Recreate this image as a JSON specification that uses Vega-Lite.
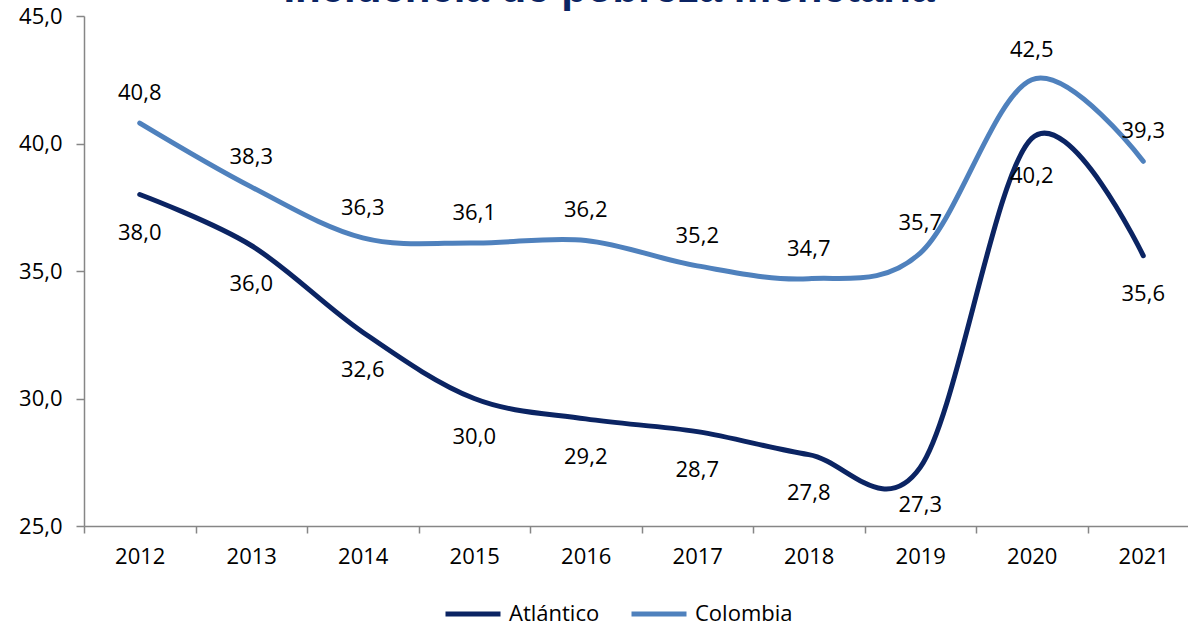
{
  "$schema": "https://vega.github.io/schema/vega-lite/v6.json",
  "width": 1104,
  "height": 510,
  "autosize": {"type": "none"},
  "padding": {"left": 84, "top": 16, "right": 0, "bottom": 100},
  "background": "white",
  "title": {
    "text": "Incidencia de pobreza monetaria",
    "font": "Liberation Sans",
    "fontSize": 42,
    "fontWeight": "bold",
    "color": "#0B2463",
    "anchor": "middle",
    "dx": -27,
    "offset": -6
  },
  "config": {
    "locale": {"number": {"decimal": ",", "thousands": ".", "grouping": [3], "currency": ["$", ""]}},
    "view": {"stroke": null},
    "font": "Open Sans"
  },
  "data": {
    "values": [
      {"year": "2012", "serie": "Atlántico", "valor": 38.0},
      {"year": "2013", "serie": "Atlántico", "valor": 36.0},
      {"year": "2014", "serie": "Atlántico", "valor": 32.6},
      {"year": "2015", "serie": "Atlántico", "valor": 30.0},
      {"year": "2016", "serie": "Atlántico", "valor": 29.2},
      {"year": "2017", "serie": "Atlántico", "valor": 28.7},
      {"year": "2018", "serie": "Atlántico", "valor": 27.8},
      {"year": "2019", "serie": "Atlántico", "valor": 27.3},
      {"year": "2020", "serie": "Atlántico", "valor": 40.2},
      {"year": "2021", "serie": "Atlántico", "valor": 35.6},
      {"year": "2012", "serie": "Colombia", "valor": 40.8},
      {"year": "2013", "serie": "Colombia", "valor": 38.3},
      {"year": "2014", "serie": "Colombia", "valor": 36.3},
      {"year": "2015", "serie": "Colombia", "valor": 36.1},
      {"year": "2016", "serie": "Colombia", "valor": 36.2},
      {"year": "2017", "serie": "Colombia", "valor": 35.2},
      {"year": "2018", "serie": "Colombia", "valor": 34.7},
      {"year": "2019", "serie": "Colombia", "valor": 35.7},
      {"year": "2020", "serie": "Colombia", "valor": 42.5},
      {"year": "2021", "serie": "Colombia", "valor": 39.3}
    ]
  },
  "encoding": {
    "x": {
      "field": "year",
      "type": "ordinal",
      "scale": {"type": "band", "paddingInner": 0, "paddingOuter": 0, "range": [0, 1115]},
      "axis": {
        "title": null,
        "labelAngle": 0,
        "tickBand": "extent",
        "tickSize": 7,
        "tickColor": "#868686",
        "tickWidth": 1.5,
        "domainColor": "#868686",
        "domainWidth": 1.5,
        "labelFont": "Open Sans",
        "labelFontSize": 22,
        "labelColor": "#000000",
        "labelPadding": 13,
        "grid": false
      }
    },
    "y": {
      "field": "valor",
      "type": "quantitative",
      "scale": {"domain": [25, 45], "nice": false, "zero": false},
      "axis": {
        "title": null,
        "values": [25, 30, 35, 40, 45],
        "format": ".1f",
        "tickSize": 8,
        "tickColor": "#868686",
        "tickWidth": 1.5,
        "domainColor": "#868686",
        "domainWidth": 1.5,
        "labelFont": "Open Sans",
        "labelFontSize": 22,
        "labelColor": "#000000",
        "labelPadding": 14,
        "grid": false
      }
    }
  },
  "layer": [
    {
      "mark": {"type": "line", "interpolate": "cardinal", "strokeWidth": 5, "strokeCap": "round"},
      "encoding": {
        "color": {
          "field": "serie",
          "type": "nominal",
          "scale": {"domain": ["Atlántico", "Colombia"], "range": ["#0B2463", "#4F81BD"]},
          "legend": {
            "title": null,
            "orient": "none",
            "direction": "horizontal",
            "legendX": 359,
            "legendY": 568,
            "symbolType": "stroke",
            "symbolSize": 3025,
            "symbolStrokeWidth": 5,
            "labelFont": "Open Sans",
            "labelFontSize": 22,
            "labelColor": "#000000",
            "labelOffset": 6,
            "columnPadding": 21
          }
        }
      }
    },
    {
      "transform": [{"filter": "datum.serie === 'Colombia'"}],
      "mark": {"type": "text", "dy": -30, "fontSize": 22, "font": "Open Sans", "color": "#000000", "baseline": "middle"},
      "encoding": {"text": {"field": "valor", "type": "quantitative", "format": ".1f"}}
    },
    {
      "transform": [{"filter": "datum.serie === 'Atlántico'"}],
      "mark": {"type": "text", "dy": 38, "fontSize": 22, "font": "Open Sans", "color": "#000000", "baseline": "middle"},
      "encoding": {"text": {"field": "valor", "type": "quantitative", "format": ".1f"}}
    }
  ]
}
